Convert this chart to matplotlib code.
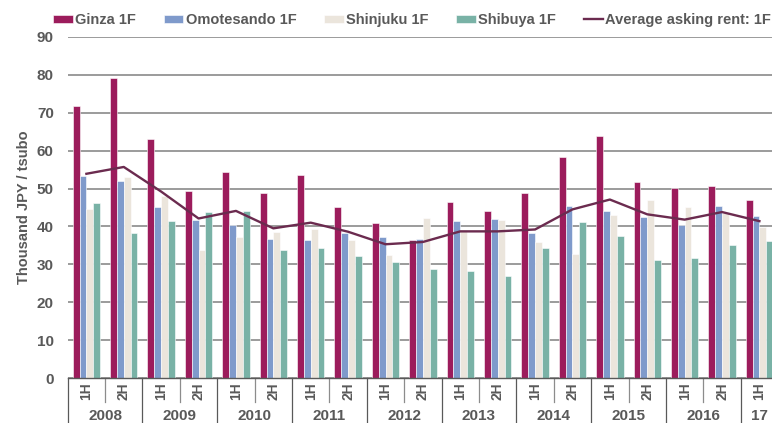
import numpy as np
import matplotlib.pyplot as plt
import matplotlib.transforms as mtransforms

plt.rcParams['font.family'] = ['Liberation Sans', 'DejaVu Sans']

years = ["2008", "2009", "2010", "2011", "2012", "2013", "2014", "2015", "2016", "17"]
halves = ["1H", "2H"] * 9 + ["1H"]

ginza = [71.8, 79.3, 63.1, 49.4, 54.4, 48.7, 53.5, 45.1, 41.0, 36.4,
         46.4, 44.0, 48.7, 58.2, 63.8, 51.7, 50.1, 50.8, 47.1]
omotesando = [53.3, 51.9, 45.0, 41.7, 40.5, 36.7, 36.4, 38.3, 37.2, 36.7,
              41.4, 42.0, 38.4, 45.4, 44.2, 42.4, 40.4, 45.4, 42.7]
shinjuku = [44.7, 53.0, 48.1, 33.8, 37.3, 38.6, 39.2, 36.4, 32.5, 42.3,
            39.0, 41.6, 35.8, 32.7, 42.9, 47.1, 45.1, 43.6, 39.9]
shibuya = [46.1, 38.4, 41.5, 43.7, 44.0, 33.7, 34.3, 32.3, 30.5, 28.7,
           28.3, 26.8, 34.2, 41.2, 37.5, 31.2, 31.7, 35.1, 36.1]
average = [53.9, 55.7, 49.2, 42.1, 44.1, 39.5, 41.0, 38.6, 35.3, 35.9,
           38.7, 38.7, 39.2, 44.5, 47.1, 43.2, 41.8, 43.8, 41.4]

series = [("Ginza 1F", ginza, "#9c1c5c"),
          ("Omotesando 1F", omotesando, "#7f9acb"),
          ("Shinjuku 1F", shinjuku, "#ebe5dc"),
          ("Shibuya 1F", shibuya, "#79b2a6")]

txt_col = "#595959"
W, H = 772, 423
fig = plt.figure(figsize=(W / 100, H / 100), dpi=100)
left_px, bottom_px, top_px = 67.7, 378, 37
slot_px = 37.39
ax = fig.add_axes([left_px / W, (H - bottom_px) / H, 1 - left_px / W, (bottom_px - top_px) / H])

x = np.arange(len(halves))
bw = 0.183
handles = []
for i, (name, vals, col) in enumerate(series):
    b = ax.bar(x + (i - 1.5) * bw, vals, bw, color=col, label=name,
               edgecolor="white", linewidth=0.4, zorder=2)
    handles.append(b)
ln, = ax.plot(x, average, color="#6b2b4f", lw=1.7, label="Average asking rent: 1F", zorder=3)
handles.append(ln)

xmax = -0.5 + (W - left_px) / slot_px
ax.set_xlim(-0.5, xmax)
ax.set_ylim(0, 90)
ax.set_yticks(range(0, 91, 10))
ax.grid(axis="y", color="#808080", lw=1.1, zorder=0)
ax.tick_params(axis="y", length=0, pad=10, labelsize=11, labelcolor=txt_col)
for lab in ax.get_yticklabels():
    lab.set_fontweight("bold")
ax.set_xticks([])
for s in ["top", "right", "left"]:
    ax.spines[s].set_visible(False)
ax.spines["bottom"].set_color("#595959")
ax.spines["bottom"].set_linewidth(1.0)
ax.set_ylabel("Thousand JPY / tsubo", fontsize=10.5, fontweight="bold", color=txt_col, labelpad=4)

# two-level category axis
trans = mtransforms.blended_transform_factory(ax.transData, ax.transAxes)
for i, h in enumerate(halves):
    ax.text(i, -0.04, h, transform=trans, rotation=90, ha="center", va="center",
            fontsize=10, fontweight="bold", color=txt_col)
    if i % 2 == 1:
        ax.plot([i - 0.5, i - 0.5], [0, -0.07], transform=trans, color="#8c8c8c",
                lw=0.9, clip_on=False)
for j, yr in enumerate(years):
    start = 2 * j - 0.5
    ax.plot([start, start], [0, -0.14], transform=trans, color="#595959", lw=0.9, clip_on=False)
    centre = 2 * j + 0.5 if j < 9 else 2 * j
    ax.text(centre, -0.111, yr, transform=trans, ha="center", va="center",
            fontsize=11, fontweight="bold", color=txt_col)

leg = fig.legend(handles=handles, loc="upper center", bbox_to_anchor=(0.534, 1.0), ncol=5,
                 frameon=False, handlelength=1.35, handleheight=0.55, handletextpad=0.15,
                 columnspacing=1.9, prop={"weight": "bold", "size": 10.5})
for t in leg.get_texts():
    t.set_color(txt_col)

fig.savefig("out.png", dpi=100)
